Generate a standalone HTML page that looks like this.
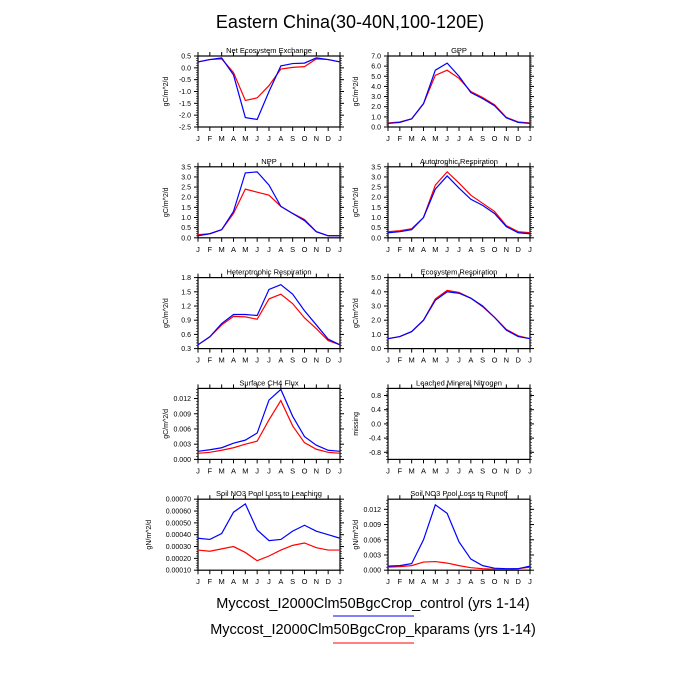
<!DOCTYPE html>
<html><head><meta charset="utf-8"><style>body{margin:0;background:#fff}svg{display:block;font-family:"Liberation Sans",sans-serif}</style></head>
<body><svg id="s" width="700" height="700" xmlns="http://www.w3.org/2000/svg"></svg>
<script>
const S=document.getElementById('s');let h='';
h+='<text x="350" y="28" font-size="18" text-anchor="middle">Eastern China(30-40N,100-120E)</text>';
const P=[
["Net Ecosystem Exchange","gC/m^2/d",-2.5,0.5,[0.5,0,-0.5,-1,-1.5,-2,-2.5],1,
[.25,.35,.42,-.3,-2.1,-2.18,-1.0,.08,.18,.2,.42,.35,.25],[.25,.35,.38,-.2,-1.38,-1.27,-.75,-.05,.02,.05,.38,.35,.25]],
["GPP","gC/m^2/d",0,7,[0,1,2,3,4,5,6,7],1,
[.35,.45,.8,2.3,5.6,6.3,5.0,3.4,2.8,2.1,.9,.45,.35],[.4,.5,.8,2.3,5.1,5.6,4.8,3.5,2.9,2.2,.95,.5,.4]],
["NPP","gC/m^2/d",0,3.5,[0,.5,1,1.5,2,2.5,3,3.5],1,
[.1,.2,.4,1.3,3.2,3.25,2.6,1.55,1.2,.85,.3,.1,.1],[.15,.2,.4,1.2,2.4,2.25,2.1,1.55,1.2,.9,.3,.1,.1]],
["Autotrophic Respiration","gC/m^2/d",0,3.5,[0,.5,1,1.5,2,2.5,3,3.5],1,
[.25,.3,.4,1.0,2.4,3.05,2.45,1.9,1.6,1.2,.55,.25,.2],[.3,.35,.45,1.0,2.6,3.25,2.7,2.1,1.7,1.3,.6,.3,.25]],
["Heterotrophic Respiration","gC/m^2/d",0.3,1.8,[.3,.6,.9,1.2,1.5,1.8],1,
[.38,.55,.83,1.02,1.02,1.0,1.55,1.65,1.45,1.1,.8,.5,.38],[.38,.55,.8,.98,.97,.92,1.35,1.45,1.25,.95,.72,.47,.38]],
["Ecosystem Respiration","gC/m^2/d",0,5,[0,1,2,3,4,5],1,
[.7,.85,1.2,2.0,3.4,4.0,3.9,3.55,3.0,2.2,1.3,.85,.7],[.7,.85,1.2,2.0,3.5,4.1,3.95,3.55,2.95,2.2,1.35,.9,.7]],
["Surface CH4 Flux","gC/m^2/d",0,0.014,[0,.003,.006,.009,.012],3,
[.0016,.0019,.0023,.0032,.0038,.0052,.0117,.0138,.0085,.0045,.0028,.0018,.0016],[.0012,.0014,.0018,.0023,.003,.0036,.0078,.0116,.0066,.0033,.002,.0014,.0012]],
["Leached Mineral Nitrogen","missing",-1,1,[-.8,-.4,0,.4,.8],1,null,null],
["Soil NO3 Pool Loss to Leaching","gN/m^2/d",0.0001,0.0007,[.0001,.0002,.0003,.0004,.0005,.0006,.0007],5,
[.00037,.00036,.00041,.00059,.00066,.00044,.00035,.00036,.00043,.00048,.00043,.0004,.00037],[.00027,.00026,.00028,.0003,.00025,.00018,.00022,.00027,.00031,.00033,.00029,.00027,.00027]],
["Soil NO3 Pool Loss to Runoff","gN/m^2/d",0,0.014,[0,.003,.006,.009,.012],3,
[.0008,.0009,.0013,.006,.0129,.0112,.0056,.0022,.0009,.0004,.0003,.0003,.0008],[.0006,.0007,.0009,.0016,.0017,.0014,.0009,.0005,.0003,.0002,.0002,.0003,.0006]]];
const M="JFMAMJJASONDJ";
P.forEach((p,i)=>{
 const x0=i%2?388:198,w=142,y0=56+Math.floor(i/2)*110.8,ht=71;
 const [t,yl,lo,hi,tk,dp,b,r]=p;
 const X=k=>x0+k*w/12,Y=v=>y0+ht-(v-lo)/(hi-lo)*ht;
 h+=`<text x="${x0+w/2}" y="${y0-3}" font-size="7.5" text-anchor="middle">${t}</text>`;
 const lx=dp>=5?x0-47:x0-30;
 if(yl)h+=`<text transform="translate(${lx},${y0+ht/2}) rotate(-90)" font-size="7" text-anchor="middle">${yl}</text>`;
 for(let k=0;k<13;k++){const x=X(k);
  h+=`<line x1="${x}" y1="${y0+ht}" x2="${x}" y2="${y0+ht+4}" stroke="#000" stroke-width="1"/><line x1="${x}" y1="${y0}" x2="${x}" y2="${y0-4}" stroke="#000"/>`;
  h+=`<text x="${x}" y="${y0+ht+14}" font-size="7.5" text-anchor="middle">${M[k]}</text>`;}
 const step=Math.abs(tk[1]-tk[0]);const ms=step/5;
 const n=Math.min(200,Math.round((hi-lo)/ms));
 for(let j=0;j<=n;j++){const v=lo+j*ms;const y=Y(v);
  h+=`<line x1="${x0}" y1="${y}" x2="${x0-2}" y2="${y}" stroke="#000" stroke-width=".6"/><line x1="${x0+w}" y1="${y}" x2="${x0+w+2}" y2="${y}" stroke="#000" stroke-width=".6"/>`;}
 tk.forEach(v=>{const y=Y(v);
  h+=`<line x1="${x0}" y1="${y}" x2="${x0-4}" y2="${y}" stroke="#000"/><line x1="${x0+w}" y1="${y}" x2="${x0+w+4}" y2="${y}" stroke="#000"/>`;
  h+=`<text x="${x0-7}" y="${y+2.5}" font-size="7" text-anchor="end">${v.toFixed(dp)}</text>`;});
 h+=`<rect x="${x0}" y="${y0}" width="${w}" height="${ht}" fill="none" stroke="#000" stroke-width="1.2"/>`;
 [[r,'#f00'],[b,'#00f']].forEach(([d,c])=>{if(!d)return;
  h+=`<polyline fill="none" stroke="${c}" stroke-width="1.2" points="${d.map((v,k)=>X(k)+','+Y(v)).join(' ')}"/>`;});
});
h+='<text x="373" y="608" font-size="14.5" text-anchor="middle">Myccost_I2000Clm50BgcCrop_control (yrs 1-14)</text>';
h+='<line x1="333" y1="616" x2="414" y2="616" stroke="#00f" stroke-width="1"/>';
h+='<text x="373" y="634" font-size="14.5" text-anchor="middle">Myccost_I2000Clm50BgcCrop_kparams (yrs 1-14)</text>';
h+='<line x1="333" y1="643" x2="414" y2="643" stroke="#f00" stroke-width="1"/>';
S.innerHTML=h;
</script></body></html>
